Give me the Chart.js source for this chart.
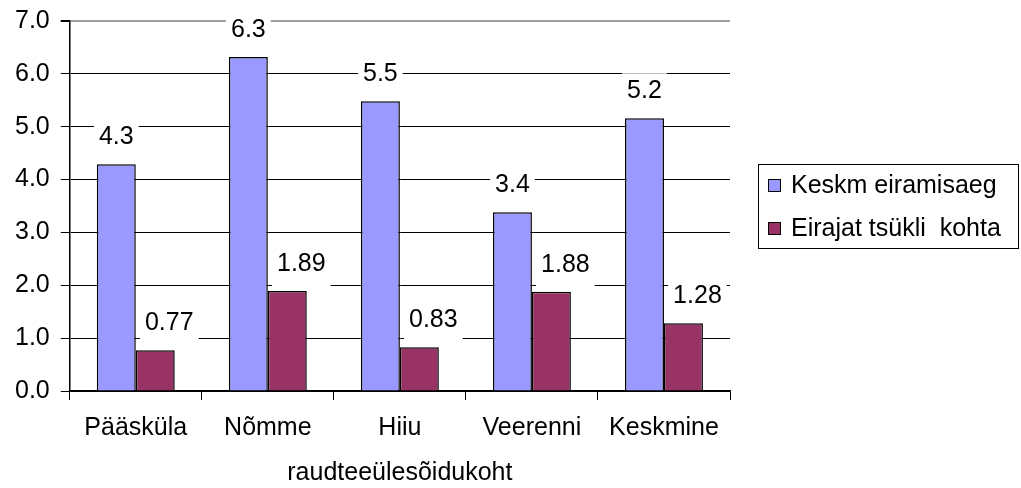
<!DOCTYPE html>
<html>
<head>
<meta charset="utf-8">
<script src="https://cdn.jsdelivr.net/npm/chart.js@4/dist/chart.umd.min.js"></script>
<style>
  html, body { margin: 0; padding: 0; background: #fff; }
</style>
</head>
<body>
<canvas id="chart" width="1021" height="488"></canvas>
<script>
const categories = ["Pääsküla", "Nõmme", "Hiiu", "Veerenni", "Keskmine"]
const keskmEiramisaeg = [4.29, 6.32, 5.48, 3.38, 5.16]
const eirajatTsykliKohta = [0.77, 1.89, 0.83, 1.88, 1.28]
const seriesNames = ["Keskm eiramisaeg", "Eirajat tsükli  kohta"]
const labelDecimals = [1, 2]
const yTicks = [0, 1, 2, 3, 4, 5, 6, 7]
const xTitle = "raudteeülesõidukoht"

const FONT = '"Liberation Sans", Arial, sans-serif'
const FS = 25

// white boxes behind value labels (under the bars, over the grid)
function labelPos(bar, di) {
  return { x: bar.x + (di === 1 ? 14 : 0), y: bar.y - 27 }
}

const valueLabels = {
  id: "valueLabels",
  beforeDatasetsDraw(chart) {
    const ctx = chart.ctx
    ctx.save()
    ctx.font = FS + "px " + FONT
    chart.data.datasets.forEach((ds, di) => {
      chart.getDatasetMeta(di).data.forEach((bar, i) => {
        const txt = ds.data[i].toFixed(labelDecimals[di])
        const w = ctx.measureText(txt).width
        const p = labelPos(bar, di)
        ctx.fillStyle = "#fff"
        ctx.fillRect(p.x - w / 2 - 5, p.y - 18, w + 10, 42)
      })
    })
    ctx.restore()
  },
  afterDatasetsDraw(chart) {
    const ctx = chart.ctx
    ctx.save()
    ctx.font = FS + "px " + FONT
    ctx.fillStyle = "#000"
    ctx.textAlign = "center"
    ctx.textBaseline = "middle"
    chart.data.datasets.forEach((ds, di) => {
      chart.getDatasetMeta(di).data.forEach((bar, i) => {
        const p = labelPos(bar, di)
        ctx.fillText(ds.data[i].toFixed(labelDecimals[di]), p.x, p.y)
      })
    })
    ctx.restore()
  },
  afterDraw(chart) {
    // legend box on the right
    const ctx = chart.ctx
    ctx.save()
    ctx.strokeStyle = "#000"
    ctx.lineWidth = 1
    ctx.strokeRect(758.5, 164.5, 260, 84)
    ctx.font = FS + "px " + FONT
    ctx.textBaseline = "middle"
    chart.data.datasets.forEach((ds, di) => {
      const y = 185 + di * 43
      ctx.fillStyle = ds.backgroundColor
      ctx.fillRect(768, y - 6, 13, 13)
      ctx.strokeStyle = "#000"
      ctx.strokeRect(768.5, y - 5.5, 12, 12)
      ctx.fillStyle = "#000"
      ctx.fillText(ds.label, 791, y + 1)
    })
    ctx.restore()
  }
}

new Chart(document.getElementById("chart"), {
  type: "bar",
  data: {
    labels: categories,
    datasets: [
      {
        label: seriesNames[0],
        data: keskmEiramisaeg,
        backgroundColor: "#9999ff",
        borderColor: "#000",
        borderWidth: 1.5,
        categoryPercentage: 0.59,
        barPercentage: 1,
      },
      {
        label: seriesNames[1],
        data: eirajatTsykliKohta,
        backgroundColor: "#993366",
        borderColor: "#000",
        borderWidth: 1.5,
        categoryPercentage: 0.59,
        barPercentage: 1,
      },
    ],
  },
  options: {
    responsive: false,
    animation: false,
    layout: { padding: { left: 4, right: 291, top: 6, bottom: 0 } },
    plugins: {
      legend: { display: false },
      tooltip: { enabled: false },
    },
    scales: {
      y: {
        min: 0,
        max: 7,
        afterBuildTicks(scale) {
          scale.ticks = yTicks.map(v => ({ value: v }))
        },
        ticks: {
          padding: 11,
          color: "#000",
          font: { size: FS, family: FONT, lineHeight: 0.8 },
          callback: v => Number(v).toFixed(1),
        },
        grid: {
          color: ctx => (ctx.tick && ctx.tick.value === 7 ? "#a0a0a0" : "#000"),
          lineWidth: ctx => (ctx.tick && ctx.tick.value === 7 ? 2 : 1),
          tickLength: 9,
          tickColor: "#000",
        },
        border: { color: "#000", width: 1.5 },
      },
      x: {
        ticks: {
          padding: 13,
          color: "#000",
          font: { size: FS, family: FONT },
          maxRotation: 0,
        },
        grid: {
          offset: true,
          drawOnChartArea: false,
          tickLength: 9,
          tickColor: "#000",
        },
        border: { color: "#000", width: 1.5 },
        title: {
          display: true,
          text: xTitle,
          color: "#000",
          font: { size: FS, family: FONT },
          padding: { top: 2, bottom: 0 },
        },
      },
    },
  },
  plugins: [valueLabels],
})
</script>
</body>
</html>
